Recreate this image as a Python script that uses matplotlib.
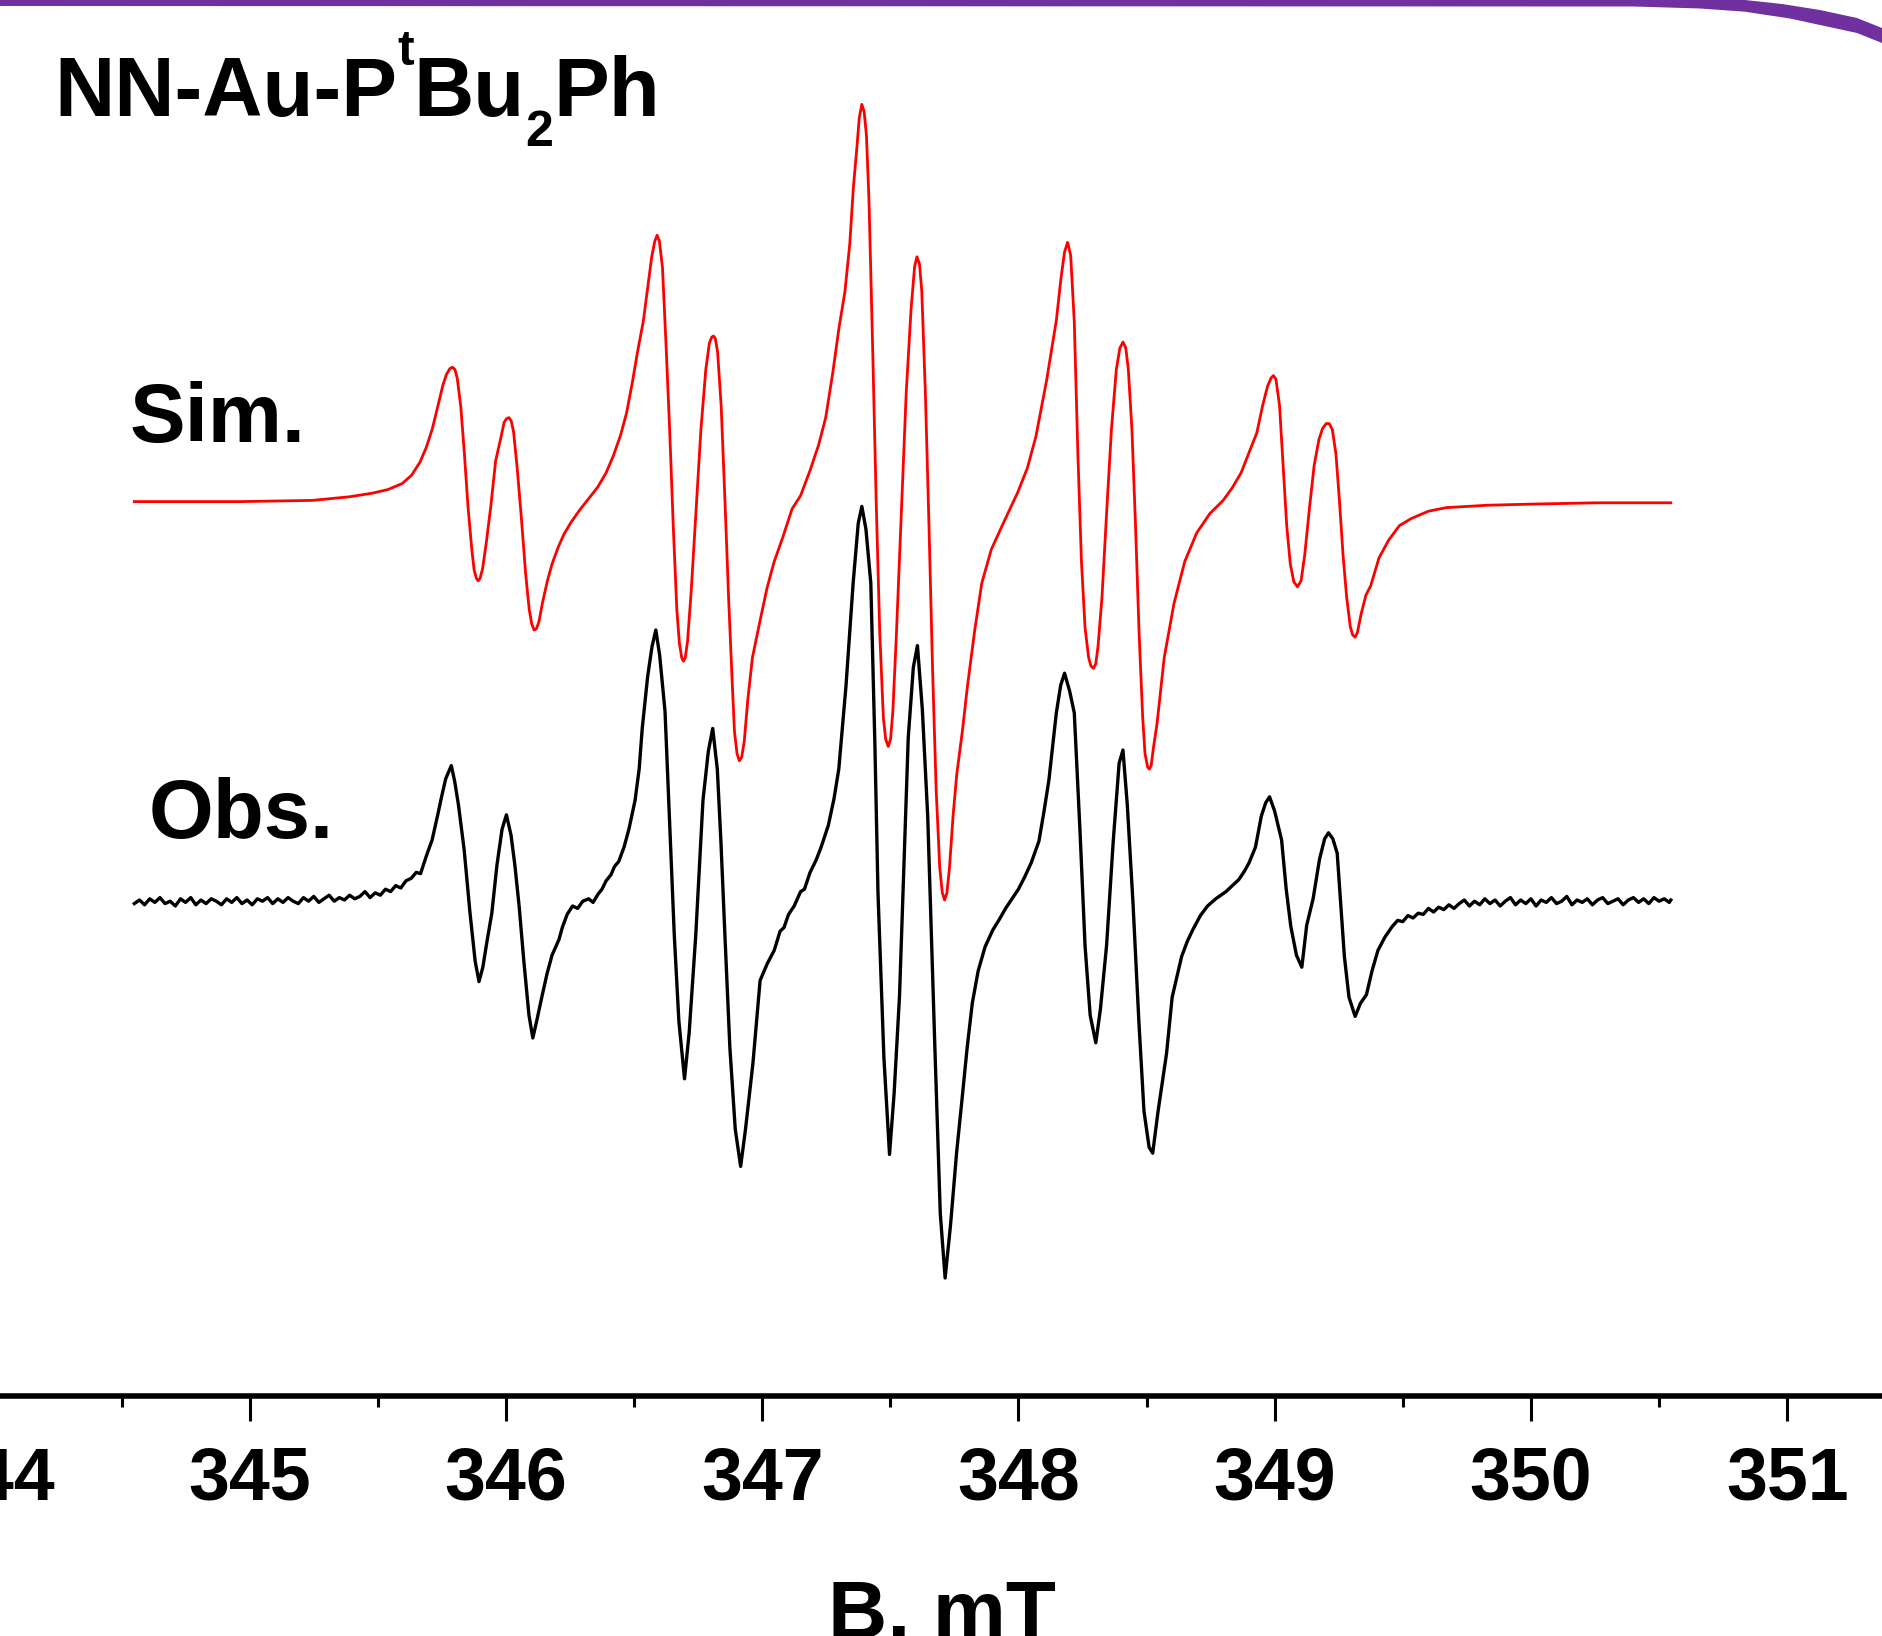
import matplotlib
matplotlib.use("Agg")
import matplotlib.pyplot as plt
from matplotlib.patches import Polygon
from matplotlib.ticker import MultipleLocator

plt.rcParams['font.family'] = ['Liberation Sans', 'DejaVu Sans']
plt.rcParams['font.weight'] = 'bold'

# simulated spectrum: field (mT) and first-derivative signal (a.u., baseline 0)
sim_field = [
    344.550, 344.963, 345.244, 345.389, 345.478, 345.539, 345.595, 345.632, 345.665, 345.689,
    345.712, 345.735, 345.754, 345.768, 345.782, 345.792, 345.801, 345.810, 345.824, 345.838,
    345.852, 345.867, 345.876, 345.885, 345.892, 345.899, 345.909, 345.923, 345.941, 345.960,
    345.979, 345.993, 346.002, 346.012, 346.021, 346.030, 346.044, 346.059, 346.077, 346.091,
    346.101, 346.110, 346.119, 346.129, 346.143, 346.162, 346.180, 346.204, 346.227, 346.255,
    346.288, 346.321, 346.358, 346.391, 346.419, 346.447, 346.471, 346.494, 346.513, 346.536,
    346.555, 346.569, 346.581, 346.590, 346.599, 346.611, 346.625, 346.639, 346.653, 346.667,
    346.677, 346.686, 346.693, 346.700, 346.709, 346.723, 346.742, 346.761, 346.780, 346.794,
    346.803, 346.810, 346.817, 346.826, 346.840, 346.855, 346.869, 346.883, 346.892, 346.902,
    346.911, 346.920, 346.930, 346.944, 346.962, 346.991, 347.019, 347.047, 347.080, 347.117,
    347.150, 347.187, 347.220, 347.248, 347.276, 347.300, 347.323, 347.342, 347.356, 347.370,
    347.379, 347.389, 347.398, 347.407, 347.417, 347.431, 347.445, 347.459, 347.473, 347.482,
    347.492, 347.501, 347.510, 347.524, 347.543, 347.562, 347.581, 347.595, 347.604, 347.614,
    347.623, 347.637, 347.651, 347.665, 347.679, 347.693, 347.703, 347.712, 347.721, 347.731,
    347.745, 347.759, 347.782, 347.801, 347.829, 347.857, 347.894, 347.941, 347.998, 348.035,
    348.068, 348.091, 348.110, 348.129, 348.148, 348.166, 348.180, 348.192, 348.204, 348.218,
    348.232, 348.246, 348.260, 348.274, 348.283, 348.293, 348.302, 348.311, 348.326, 348.344,
    348.363, 348.382, 348.396, 348.408, 348.419, 348.429, 348.443, 348.457, 348.471, 348.485,
    348.494, 348.504, 348.511, 348.518, 348.527, 348.541, 348.569, 348.607, 348.649, 348.696,
    348.747, 348.799, 348.836, 348.869, 348.902, 348.930, 348.953, 348.972, 348.986, 348.995,
    349.005, 349.019, 349.033, 349.047, 349.061, 349.075, 349.089, 349.103, 349.117, 349.136,
    349.154, 349.173, 349.187, 349.201, 349.213, 349.225, 349.239, 349.253, 349.267, 349.281,
    349.295, 349.304, 349.314, 349.323, 349.337, 349.356, 349.375, 349.407, 349.445, 349.487,
    349.534, 349.600, 349.670, 349.834, 350.021, 350.255, 350.546,
]
sim_signal = [
    0, 0, 1, 4, 7, 10, 15, 22, 33, 45,
    60, 80, 97, 106, 111, 112, 110, 103, 79, 40,
    -4, -40, -57, -64, -66, -64, -56, -35, -4, 34,
    52, 66, 69, 70, 67, 58, 28, -10, -60, -90,
    -102, -107, -106, -100, -84, -66, -52, -38, -27, -17,
    -7, 2, 12, 24, 38, 55, 74, 100, 124, 150,
    181, 204, 217, 222, 217, 195, 130, 60, -20, -90,
    -118, -130, -133, -130, -116, -75, -8, 60, 110, 132,
    137, 138, 136, 125, 80, 0, -80, -150, -192, -210,
    -216, -213, -200, -165, -130, -100, -72, -50, -30, -6,
    5, 26, 47, 70, 108, 145, 175, 215, 262, 296,
    320, 331, 325, 305, 250, 130, 0, -110, -180, -198,
    -204, -198, -175, -110, -10, 90, 160, 196, 204, 198,
    175, 90, -20, -140, -240, -305, -326, -332, -326, -305,
    -262, -228, -190, -154, -108, -68, -40, -18, 8, 28,
    54, 80, 101, 126, 151, 186, 208, 216, 205, 150,
    40, -50, -105, -130, -137, -139, -135, -120, -80, -10,
    60, 110, 128, 133, 128, 110, 60, -20, -110, -180,
    -210, -221, -223, -220, -205, -185, -130, -85, -50, -26,
    -10, 1, 12, 24, 42, 57, 80, 96, 103, 105,
    102, 80, 30, -20, -52, -67, -71, -66, -45, -5,
    30, 52, 61, 65, 65, 60, 40, 0, -45, -80,
    -104, -111, -113, -109, -94, -78, -70, -47, -32, -20,
    -14, -8, -5, -3, -2, -1, -1,
]

# observed spectrum: field (mT) and first-derivative signal (a.u., baseline 0)
obs_field = [
    344.55, 344.57, 344.59, 344.61, 344.63, 344.65, 344.67, 344.69, 344.71, 344.73,
    344.75, 344.77, 344.79, 344.81, 344.83, 344.85, 344.87, 344.89, 344.91, 344.93,
    344.95, 344.97, 344.99, 345.01, 345.03, 345.05, 345.07, 345.09, 345.11, 345.13,
    345.15, 345.17, 345.19, 345.21, 345.23, 345.25, 345.27, 345.29, 345.31, 345.33,
    345.35, 345.37, 345.39, 345.41, 345.43, 345.45, 345.47, 345.49, 345.51, 345.53,
    345.55, 345.57, 345.59, 345.61, 345.63, 345.65, 345.667, 345.69, 345.712, 345.735,
    345.75, 345.765, 345.787, 345.80, 345.815, 345.837, 345.86, 345.88, 345.895, 345.91,
    345.925, 345.945, 345.965, 345.985, 346.002, 346.02, 346.035, 346.052, 346.07, 346.09,
    346.105, 346.12, 346.14, 346.161, 346.18, 346.207, 346.22, 346.239, 346.26, 346.28,
    346.30, 346.323, 346.34, 346.36, 346.375, 346.391, 346.41, 346.424, 346.44, 346.461,
    346.48, 346.504, 346.52, 346.532, 346.553, 346.57, 346.585, 346.60, 346.621, 346.64,
    346.657, 346.675, 346.697, 346.715, 346.741, 346.769, 346.79, 346.807, 346.825, 346.839,
    346.855, 346.874, 346.895, 346.916, 346.935, 346.964, 346.992, 347.02, 347.047, 347.07,
    347.085, 347.103, 347.125, 347.15, 347.165, 347.187, 347.21, 347.23, 347.258, 347.28,
    347.299, 347.327, 347.355, 347.375, 347.389, 347.405, 347.424, 347.44, 347.452, 347.475,
    347.497, 347.515, 347.536, 347.555, 347.570, 347.59, 347.606, 347.625, 347.646, 347.674,
    347.695, 347.714, 347.735, 347.759, 347.78, 347.800, 347.82, 347.843, 347.87, 347.90,
    347.926, 347.95, 347.975, 348.00, 348.024, 348.05, 348.08, 348.10, 348.119, 348.148,
    348.165, 348.180, 348.20, 348.218, 348.24, 348.260, 348.28, 348.302, 348.32, 348.344,
    348.37, 348.393, 348.408, 348.425, 348.447, 348.47, 348.49, 348.51, 348.524, 348.545,
    348.578, 348.60, 348.637, 348.66, 348.680, 348.71, 348.738, 348.77, 348.79, 348.810,
    348.84, 348.86, 348.882, 348.90, 348.925, 348.948, 348.965, 348.980, 349.00, 349.027,
    349.045, 349.063, 349.085, 349.106, 349.125, 349.150, 349.175, 349.195, 349.210, 349.227,
    349.244, 349.272, 349.29, 349.314, 349.335, 349.358, 349.38, 349.403, 349.43, 349.459,
    349.48, 349.50, 349.52, 349.54, 349.56, 349.58, 349.60, 349.62, 349.64, 349.66,
    349.68, 349.70, 349.72, 349.74, 349.76, 349.78, 349.80, 349.82, 349.84, 349.86,
    349.88, 349.90, 349.92, 349.94, 349.96, 349.98, 350.00, 350.02, 350.04, 350.06,
    350.08, 350.10, 350.12, 350.14, 350.16, 350.18, 350.20, 350.22, 350.24, 350.26,
    350.28, 350.30, 350.32, 350.34, 350.36, 350.38, 350.40, 350.42, 350.44, 350.46,
    350.48, 350.50, 350.52, 350.54, 350.546,
]
obs_signal = [
    -2, 1, -3, 2, -1, 3, -2, 0, -4, 2,
    -1, 3, -3, 1, -2, 2, 0, -3, 2, -1,
    3, -2, 1, -3, 2, 0, 3, -2, 2, -1,
    3, 0, -2, 3, 0, 4, -1, 2, 5, 0,
    3, 1, 5, 2, 4, 8, 3, 7, 5, 10,
    8, 13, 11, 17, 19, 24, 23, 38, 51, 73,
    88, 102, 113, 100, 80, 43, -10, -50, -67, -55,
    -35, -10, 30, 60, 72, 55, 30, -5, -50, -95,
    -114, -100, -80, -60, -45, -32, -22, -11, -4, -6,
    0, 2, -1, 6, 10, 17, 22, 29, 33, 45,
    60, 84, 110, 144, 187, 212, 226, 205, 158, 60,
    -28, -100, -148, -110, -28, 84, 125, 144, 110, 50,
    -30, -122, -190, -221, -190, -135, -66, -52, -41, -25,
    -22, -11, -4, 8, 10, 24, 34, 45, 63, 85,
    110, 179, 265, 315, 329, 310, 265, 130, 7, -130,
    -211, -160, -79, 40, 136, 195, 213, 160, 71, -122,
    -260, -314, -270, -209, -165, -122, -85, -58, -38, -24,
    -15, -6, 2, 10, 20, 32, 50, 75, 101, 157,
    180, 190, 175, 157, 60, -37, -95, -118, -90, -37,
    50, 115, 126, 80, -1, -100, -175, -205, -210, -175,
    -127, -80, -46, -33, -24, -12, -4, 2, 5, 8,
    14, 18, 25, 32, 45, 71, 82, 87, 75, 51,
    10, -21, -45, -55, -20, 2, 35, 52, 57, 52,
    40, -46, -80, -96, -85, -78, -58, -41, -30, -21,
    -16, -17, -12, -14, -10, -11, -6, -9, -5, -7,
    -3, -6, -2, 1, -4, 0, -3, 2, -2, 1,
    -4, 0, 3, -3, 1, -2, 2, -4, 1, -1,
    3, -2, 0, 4, -3, 1, -1, 2, -3, 1,
    3, -2, 0, 2, -3, 1, 3, -1, 2, -2,
    3, 0, 2, -1, 1,
]

sim_offset = 745
obs_offset = 412

# title pieces: text, font size, baseline shift (t superscript, 2 subscript)
title_parts = [('NN-Au-P', 60, 0), ('t', 36, 43), ('Bu', 60, 0), ('2', 36, -25), ('Ph', 60, 0)]

fig = plt.figure(figsize=(18.82, 16.36), dpi=100)
ax = fig.add_axes([-0.017124, 0.14694, 1.03482, 0.85306])

ax.plot(sim_field, [v + sim_offset for v in sim_signal], color='#ff0000', lw=2.0)
ax.plot(obs_field, [v + obs_offset for v in obs_signal], color='black', lw=2.4)

ax.set_xlim(343.9, 351.5)
ax.set_ylim(0, 1163)

for s in ['left', 'right', 'top']:
    ax.spines[s].set_visible(False)
ax.spines['bottom'].set_linewidth(4)
ax.set_yticks([])
ax.xaxis.set_major_locator(MultipleLocator(1))
ax.xaxis.set_minor_locator(MultipleLocator(0.5))
ax.tick_params(axis='x', which='major', direction='out', length=18, width=2.2,
               pad=18, labelsize=53)
ax.tick_params(axis='x', which='minor', direction='out', length=8, width=2.2)
ax.set_xlabel('B, mT', fontsize=59, fontweight='bold', labelpad=46)

renderer = fig.canvas.get_renderer()
x = 344.237
for txt, size, dy in title_parts:
    t = ax.text(x, 1066 + dy, txt, fontsize=size, fontweight='bold',
                va='baseline', ha='left')
    bb = t.get_window_extent(renderer)
    x = ax.transData.inverted().transform((bb.x1, bb.y0))[0]

ax.text(344.532, 795, 'Sim.', fontsize=60, fontweight='bold', va='baseline', ha='left')
ax.text(344.607, 465, 'Obs.', fontsize=60, fontweight='bold', va='baseline', ha='left')

# purple slide frame along the top edge (figure pixels, y from top)
frame_top = [(0, -3), (1650, -3), (1745, 0), (1782, 4), (1820, 10), (1857, 18), (1882, 28)]
frame_bottom = [(1882, 43), (1857, 33), (1820, 25), (1790, 18.5), (1760, 14),
                (1745, 11.7), (1700, 8.5), (1634, 6.5), (0, 6)]
outline = [(px / 1882, 1 - py / 1636) for px, py in frame_top + frame_bottom]
fig.add_artist(Polygon(outline, closed=True, transform=fig.transFigure,
                       facecolor='#7030a0', edgecolor='none', clip_on=False))

fig.savefig('out.png', dpi=100)
